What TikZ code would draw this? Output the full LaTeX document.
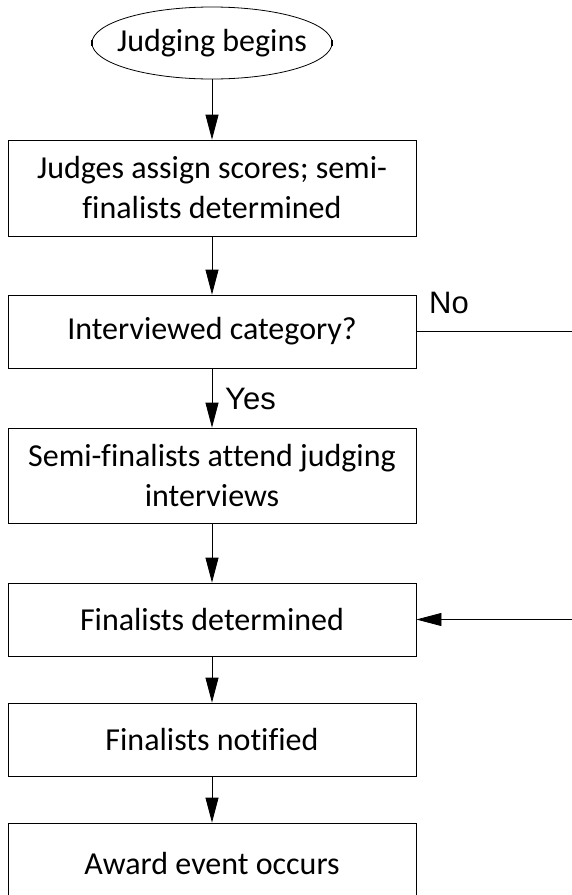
\documentclass[tikz,border=0pt]{standalone}
\usepackage{fontspec}
\setmainfont{Carlito}[Ligatures=NoCommon]
\newfontfamily\branchfont{Liberation Sans}
\usepackage{tikz}
\usetikzlibrary{arrows.meta,shapes.geometric,positioning}
\tikzset{>={Triangle[length=25pt,width=13pt]}}

\begin{document}
\begin{tikzpicture}[x=1pt,y=-1pt,
                    terminal/.style={rectangle, minimum width=240pt, minimum height=72pt, inner sep=0pt,
                                     font=\fontsize{32}{40}\selectfont},
                    stepbox/.style={draw, rectangle, line width=0.8pt, minimum width=408pt, inner sep=0pt, align=center,
                                    font=\fontsize{32}{40}\selectfont},
                    flow/.style={line width=0.8pt},
                    branch/.style={font=\branchfont\fontsize{31}{35}\selectfont, inner sep=0pt},
                   ]

\useasboundingbox (0,0) rectangle (572,895);

% steps
\node[terminal] (start) at (212,43) {Judging begins};
\draw[line width=0.8pt] (start.center) ellipse [x radius=120, y radius=36];
\node[stepbox, minimum height=96pt] (judges) at (212,188) {Judges assign scores; semi-\\finalists determined};
\node[stepbox, minimum height=73pt] (interviewed) at (212,331.5) {Interviewed category?};
\node[stepbox, minimum height=95pt] (semifinal) at (212,475.5) {Semi-finalists attend judging\\interviews};
\node[stepbox, minimum height=73pt] (finalists) at (212,619.5) {Finalists determined};
\node[stepbox, minimum height=73pt] (notified) at (212,739.5) {Finalists notified};
\node[stepbox, minimum height=80pt] (award) at (212,863) {Award event occurs};

% small marks on the terminal
\draw[line width=1.5pt] (start.west) ++(0,-3) -- ++(0,6);
\draw[line width=1.5pt] (start.east) ++(0,-3) -- ++(0,6);

% main flow
\draw[flow,->] (start.south) -- (judges.north);
\draw[flow,->] (judges.south) -- (interviewed.north);
\draw[flow,->] (interviewed.south) -- (semifinal.north);
\draw[flow,->] (semifinal.south) -- (finalists.north);
\draw[flow,->] (finalists.south) -- (notified.north);
\draw[flow,->] (notified.south) -- (award.north);

% branch
\coordinate (noend) at (572,331.5);
\coordinate (backin) at (572,619.5);
\draw[flow] (interviewed.east) -- (noend);
\draw[flow,->] (backin) -- (finalists.east);

\node[branch, anchor=base west] (nolabel) at (429,313) {No};
\node[branch, anchor=base west] (yeslabel) at (225,409) {Yes};

\end{tikzpicture}
\end{document}
